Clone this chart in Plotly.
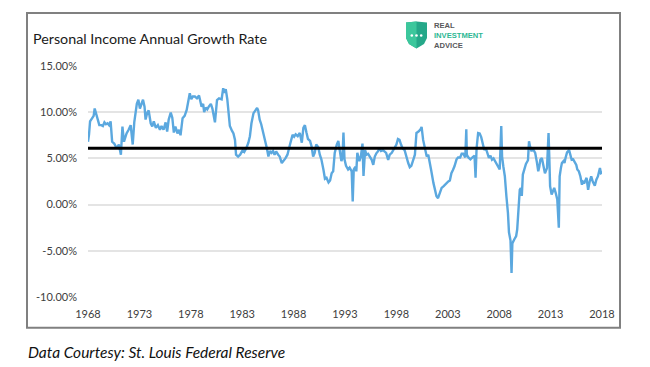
import plotly.graph_objects as go

# ---------------- data ----------------
years = [
    1968.00, 1968.10, 1968.20, 1968.40, 1968.55, 1968.65, 1968.80, 1969.00, 1969.10, 1969.30,
    1969.45, 1969.60, 1969.75, 1969.90, 1970.05, 1970.20, 1970.35, 1970.55, 1970.80, 1971.00,
    1971.20, 1971.35, 1971.50, 1971.75, 1971.95, 1972.15, 1972.35, 1972.50, 1972.75, 1972.90,
    1973.05, 1973.20, 1973.35, 1973.50, 1973.60, 1973.75, 1973.90, 1974.10, 1974.25, 1974.40,
    1974.60, 1974.80, 1975.00, 1975.15, 1975.35, 1975.55, 1975.70, 1975.85, 1976.05, 1976.20,
    1976.35, 1976.50, 1976.70, 1976.85, 1977.00, 1977.20, 1977.40, 1977.60, 1977.75, 1977.90,
    1978.05, 1978.20, 1978.40, 1978.60, 1978.80, 1979.05, 1979.20, 1979.30, 1979.45, 1979.60,
    1979.75, 1979.95, 1980.10, 1980.35, 1980.55, 1980.75, 1981.00, 1981.15, 1981.25, 1981.40,
    1981.55, 1981.65, 1981.80, 1982.00, 1982.15, 1982.30, 1982.40, 1982.60, 1982.80, 1983.05,
    1983.20, 1983.40, 1983.60, 1983.75, 1983.90, 1984.10, 1984.25, 1984.45, 1984.55, 1984.70,
    1984.85, 1985.05, 1985.20, 1985.40, 1985.55, 1985.70, 1985.85, 1986.00, 1986.15, 1986.30,
    1986.50, 1986.65, 1986.85, 1987.00, 1987.20, 1987.40, 1987.50, 1987.65, 1987.90, 1988.05,
    1988.20, 1988.40, 1988.60, 1988.80, 1988.95, 1989.10, 1989.25, 1989.40, 1989.60, 1989.75,
    1989.90, 1990.05, 1990.20, 1990.40, 1990.55, 1990.70, 1990.90, 1991.05, 1991.20, 1991.40,
    1991.55, 1991.70, 1991.85, 1992.00, 1992.20, 1992.35, 1992.50, 1992.65, 1992.75, 1992.85,
    1992.95, 1993.10, 1993.30, 1993.45, 1993.65, 1993.75, 1993.85, 1994.00, 1994.10, 1994.20,
    1994.40, 1994.55, 1994.70, 1994.80, 1994.95, 1995.10, 1995.25, 1995.45, 1995.60, 1995.75,
    1995.90, 1996.05, 1996.20, 1996.35, 1996.50, 1996.70, 1996.85, 1997.00, 1997.20, 1997.35,
    1997.55, 1997.70, 1997.85, 1998.00, 1998.15, 1998.30, 1998.45, 1998.60, 1998.80, 1998.95,
    1999.15, 1999.30, 1999.45, 1999.60, 1999.80, 1999.95, 2000.15, 2000.35, 2000.45, 2000.60,
    2000.80, 2000.95, 2001.10, 2001.25, 2001.40, 2001.60, 2001.75, 2001.90, 2002.05, 2002.20,
    2002.40, 2002.60, 2002.75, 2002.90, 2003.05, 2003.20, 2003.35, 2003.50, 2003.65, 2003.85,
    2004.00, 2004.20, 2004.35, 2004.50, 2004.70, 2004.80, 2004.85, 2005.00, 2005.20, 2005.40,
    2005.60, 2005.70, 2005.80, 2005.95, 2006.10, 2006.25, 2006.40, 2006.55, 2006.70, 2006.90,
    2007.00, 2007.15, 2007.30, 2007.45, 2007.60, 2007.80, 2007.95, 2008.05, 2008.20, 2008.28,
    2008.40, 2008.55, 2008.70, 2008.85, 2008.95, 2009.10, 2009.20, 2009.28, 2009.45, 2009.65,
    2009.75, 2009.90, 2010.00, 2010.10, 2010.20, 2010.30, 2010.45, 2010.60, 2010.80, 2010.90,
    2011.00, 2011.15, 2011.25, 2011.40, 2011.50, 2011.65, 2011.80, 2011.90, 2012.00, 2012.15,
    2012.30, 2012.45, 2012.65, 2012.80, 2012.88, 2012.95, 2013.10, 2013.25, 2013.35, 2013.50,
    2013.65, 2013.80, 2013.88, 2014.00, 2014.10, 2014.25, 2014.35, 2014.45, 2014.60, 2014.80,
    2014.95, 2015.05, 2015.20, 2015.35, 2015.50, 2015.60, 2015.75, 2015.90, 2016.05, 2016.15,
    2016.30, 2016.50, 2016.65, 2016.80, 2016.95, 2017.10, 2017.30, 2017.45, 2017.60, 2017.80,
    2017.90, 2018.05,
]
growth_pct = [
    6.8, 7.6, 9.0, 9.3, 9.6, 10.4, 9.9, 9.0, 8.6, 8.6,
    8.5, 8.9, 8.7, 8.8, 8.6, 9.0, 6.8, 6.6, 6.1, 6.5,
    5.4, 8.45, 6.8, 7.7, 8.1, 8.6, 6.5, 8.9, 10.9, 11.35,
    10.4, 10.8, 11.35, 10.6, 9.2, 9.9, 10.2, 8.8, 8.45, 9.0,
    8.3, 8.6, 8.1, 8.5, 8.1, 8.9, 7.9, 9.2, 9.95, 9.4,
    7.8, 8.45, 7.7, 8.1, 7.5, 9.35, 9.6, 10.25, 11.0, 12.05,
    11.4, 11.7, 11.7, 11.5, 11.8, 10.6, 10.9, 10.0, 10.5, 10.3,
    10.6, 10.9, 10.4, 8.9, 11.3, 11.5, 11.4, 12.6, 12.1, 12.5,
    11.4, 9.9, 8.5, 8.0, 7.7, 7.0, 5.4, 5.2, 5.4, 5.9,
    5.7, 6.1, 6.7, 7.4, 8.8, 9.9, 10.1, 10.45, 10.2, 9.2,
    8.7, 7.8, 7.0, 6.1, 5.2, 5.8, 5.6, 5.8, 5.4, 5.75,
    5.4, 5.2, 4.5, 4.7, 5.0, 5.4, 5.75, 6.5, 7.55, 7.35,
    7.6, 7.4, 7.75, 6.7, 8.3, 8.6, 7.8, 7.1, 6.9, 6.3,
    5.2, 5.6, 6.5, 6.2, 5.4, 4.9, 3.8, 2.8, 2.9, 2.4,
    2.6, 3.4, 3.6, 5.6, 6.5, 6.9, 5.8, 4.7, 5.1, 7.8,
    4.9, 4.2, 3.8, 4.0, 3.6, 0.35, 3.8, 4.1, 3.6, 5.6,
    4.7, 5.25, 6.6, 3.1, 5.9, 5.4, 5.5, 5.2, 4.85, 4.3,
    5.2, 5.55, 5.75, 6.1, 5.8, 5.9, 5.75, 5.6, 4.85, 5.4,
    5.6, 5.9, 6.1, 6.5, 7.1, 7.0, 6.5, 6.1, 5.9, 5.2,
    4.5, 4.05, 4.2, 4.7, 5.4, 7.75, 7.9, 8.15, 8.4, 7.0,
    6.1, 5.2, 5.4, 4.3, 3.6, 2.35, 1.6, 0.9, 0.7, 1.25,
    1.8, 2.0, 2.2, 2.3, 2.5, 2.6, 3.4, 3.75, 4.15, 4.9,
    5.1, 5.1, 5.5, 5.5, 5.1, 8.15, 5.4, 5.1, 4.9, 5.1,
    5.3, 2.9, 6.1, 7.75, 7.7, 7.3, 6.6, 5.9, 6.1, 5.2,
    5.05, 5.3, 4.85, 5.0, 4.7, 4.3, 3.9, 3.8, 8.5, 5.2,
    4.15, 3.05, 0.9, -0.9, -3.0, -3.9, -7.4, -4.2, -3.8, -3.4,
    -2.7, -0.55, 1.6, 1.8, 0.95, 3.25, 4.0, 4.4, 4.8, 6.85,
    6.3, 5.75, 6.1, 5.75, 5.6, 4.7, 3.6, 4.1, 4.85, 5.05,
    4.3, 3.4, 3.95, 7.75, 4.9, 2.0, 1.1, 1.5, 1.8, 1.25,
    0.55, -2.5, 3.05, 3.95, 4.5, 4.7, 4.5, 5.05, 5.65, 5.9,
    5.4, 4.85, 4.9, 4.5, 4.3, 3.8, 3.6, 3.05, 2.15, 2.5,
    2.4, 2.9, 1.6, 2.5, 3.05, 2.5, 2.05, 2.7, 3.05, 3.95,
    3.4, 3.5,
]
average_pct = 6.1
average_span = [1968, 2018]

x_tick_vals = [1968, 1973, 1978, 1983, 1988, 1993, 1998, 2003, 2008, 2013, 2018]
x_tick_text = ["1968", "1973", "1978", "1983", "1988", "1993", "1998", "2003", "2008", "2013", "2018"]
y_tick_vals = [-10, -5, 0, 5, 10, 15]
y_tick_text = ["-10.00%", "-5.00%", "0.00%", "5.00%", "10.00%", "15.00%"]

title_text = "Personal Income Annual Growth Rate"
source_text = "Data Courtesy: St. Louis Federal Reserve"
logo_lines = ["REAL", "INVESTMENT", "ADVICE"]

# ---------------- layout geometry (pixels) ----------------
W, H = 650, 367
PL, PR, PT, PB = 88, 602, 66, 297.3   # plot area in pixels


def px(xp):
    return (xp - PL) / (PR - PL)


def py(yp):
    return (PB - yp) / (PB - PT)


def path(points):
    s = "M " + " L ".join(f"{px(a):.5f},{py(b):.5f}" for a, b in points) + " Z"
    return s


fig = go.Figure()
fig.add_trace(go.Scatter(
    x=years, y=growth_pct, mode="lines",
    line=dict(color="#5BA8DF", width=2.4), showlegend=False,
))
fig.add_trace(go.Scatter(
    x=average_span, y=[average_pct, average_pct], mode="lines",
    line=dict(color="#000000", width=2.8), showlegend=False,
))

shapes = []
# outer frame
shapes.append(dict(type="rect", xref="paper", yref="paper",
                   x0=px(27), x1=px(620), y0=py(328), y1=py(13),
                   line=dict(color="#808080", width=2), fillcolor="rgba(0,0,0,0)", layer="below"))
# logo shield
shield = [(406, 22.5), (416.5, 21.5), (427, 22.5), (427, 38), (424, 44), (416.5, 48.5), (409, 44), (406, 38)]
shapes.append(dict(type="path", xref="paper", yref="paper", path=path(shield),
                   fillcolor="#25A889", line=dict(width=0)))
shield_left = [(406, 22.5), (416.5, 21.5), (416.5, 48.5), (409, 44), (406, 38)]
shapes.append(dict(type="path", xref="paper", yref="paper", path=path(shield_left),
                   fillcolor="#3CC79C", line=dict(width=0)))
for cx in (411.8, 416.5, 421.2):
    r = 1.3
    shapes.append(dict(type="circle", xref="paper", yref="paper",
                       x0=px(cx - r), x1=px(cx + r), y0=py(35.5 + r), y1=py(35.5 - r),
                       fillcolor="white", line=dict(width=0)))

logo_colors = ["#58595B", "#2DB894", "#58595B"]
logo_html = "<br>".join(
    f"<span style='color:{c}'><b>{t}</b></span>" for t, c in zip(logo_lines, logo_colors)
)

annotations = [
    dict(text=title_text, xref="paper", yref="paper", x=px(31), y=py(38),
         xanchor="left", yanchor="middle", showarrow=False,
         font=dict(family="Lato, Carlito, sans-serif", size=14.3, color="#1a1a1a")),
    dict(text="<i>" + source_text + "</i>", xref="paper", yref="paper", x=px(26), y=py(352),
         xanchor="left", yanchor="middle", showarrow=False,
         font=dict(family="Lato, Carlito, sans-serif", size=15.5, color="#111111")),
    dict(text=logo_html, xref="paper", yref="paper", x=px(432), y=py(35.5),
         xanchor="left", yanchor="middle", align="left", showarrow=False,
         font=dict(family="Liberation Sans, Arial, sans-serif", size=7.6, color="#58595B")),
]

fig.update_layout(
    width=W, height=H,
    margin=dict(l=PL, r=W - PR, t=PT, b=H - PB, pad=0),
    paper_bgcolor="white", plot_bgcolor="white",
    shapes=shapes, annotations=annotations,
    xaxis=dict(range=[1968, 2018], tickvals=x_tick_vals, ticktext=x_tick_text,
               showgrid=False, zeroline=False, showline=False, ticks="",
               ticklabelstandoff=9,
               tickfont=dict(family="Lato, Carlito, sans-serif", size=11, color="#404040")),
    yaxis=dict(range=[-10, 15], tickvals=y_tick_vals, ticktext=y_tick_text,
               showgrid=True, gridcolor="#E4E4E4", gridwidth=1.5,
               zeroline=False, showline=False, ticks="",
               ticklabelstandoff=10,
               tickfont=dict(family="Lato, Carlito, sans-serif", size=11, color="#404040")),
)

fig.write_html("out.html", config={"displayModeBar": False},
               post_script="document.body.style.margin='0';document.body.style.padding='0';")
